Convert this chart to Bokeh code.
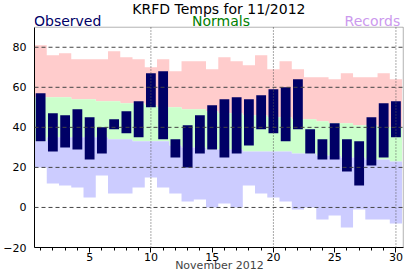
from bokeh.plotting import figure
from bokeh.models import Label, FixedTicker, Range1d, BoxAnnotation
from bokeh.embed import file_html
from bokeh.resources import INLINE

days = list(range(1, 31))
obs_high = [57, 47, 46, 49, 45, 40, 44, 48, 53, 67, 68, 34, 41, 46, 51, 54, 55, 54, 56, 59,
            60, 64, 39, 34, 42, 34, 33, 45, 52, 53]
obs_low = [33, 28, 30, 29, 24, 27, 39, 37, 35, 50, 34, 25, 20, 27, 29, 25, 27, 31, 39, 37,
           33, 39, 27, 24, 24, 18, 11, 21, 25, 35]
norm_high = [55, 55, 55, 54, 54, 53, 53, 52, 52, 51, 50, 50, 49, 49, 48, 47, 47, 46, 46, 45,
             45, 44, 44, 43, 42, 42, 41, 41, 40, 40]
norm_low = [33, 35, 35, 35, 35, 35, 34, 34, 33, 33, 33, 31, 30, 30, 29, 29, 29, 28, 28, 28,
            28, 27, 27, 26, 26, 25, 25, 24, 24, 23]
rec_high = [81, 76, 77, 74, 74, 74, 78, 75, 74, 70, 74, 68, 73, 73, 69, 75, 73, 71, 76, 69,
            73, 69, 65, 65, 64, 67, 65, 65, 67, 64]
rec_low = [20, 12, 11, 10, 5, 16, 7, 7, 10, 15, 10, 7, 3, 4, 0, 2, 0, 11, 7, 5,
           3, -1, 0, -6, -4, -10, -1, -6, -6, -8]
x_ticks = [5, 10, 15, 20, 25, 30]
x_grid = [10, 20, 30]
y_ticks = [-20, 0, 20, 40, 60, 80]
y_grid = [0, 20, 40, 60, 80]

FONT = "DejaVu Sans"
X0, X1 = 0.5, 30.6      # plotted day extent
Y0, Y1 = -20, 90        # plotted temperature extent

p = figure(width=412, height=276, output_backend="svg", toolbar_location=None,
           x_range=Range1d(X0, 30.7), y_range=Range1d(Y0, 103.35),
           min_border_left=31, min_border_right=8, min_border_top=0, min_border_bottom=29)
p.background_fill_color = "white"
p.border_fill_color = "white"
p.outline_line_color = None
p.xgrid.visible = False
p.ygrid.visible = False


def steps(vals):
    xs, ys = [], []
    for d, v in zip(days, vals):
        xs += [d - 0.5, d + 0.5]
        ys += [v, v]
    return xs, ys

sx, rh = steps(rec_high)
_, nh = steps(norm_high)
_, nl = steps(norm_low)
_, rl = steps(rec_low)
p.varea(x=sx, y1=nh, y2=rh, fill_color="#ffcccc")
p.varea(x=sx, y1=nl, y2=nh, fill_color="#ccffcc")
p.varea(x=sx, y1=rl, y2=nl, fill_color="#ccccff")

p.vbar(x=days, width=0.8, bottom=obs_low, top=obs_high, fill_color="#000066", line_color=None)

# grid lines drawn above the bars
p.segment(x0=x_grid, x1=x_grid, y0=[Y0] * len(x_grid), y1=[Y1] * len(x_grid),
          line_color="#555555", line_dash="1 2", line_width=1, level="overlay")
p.segment(x0=[X0] * len(y_grid), x1=[X1] * len(y_grid), y0=y_grid, y1=y_grid,
          line_color="#444444", line_dash="4 3", line_width=1, level="overlay")

# frame border
p.add_layout(BoxAnnotation(left=X0, right=X1, bottom=Y0, top=Y1, fill_color=None,
                           line_color="black", line_width=1, level="overlay"))

# axes
p.xaxis.ticker = FixedTicker(ticks=x_ticks, minor_ticks=days)
p.xaxis.major_tick_out = 5
p.xaxis.major_tick_in = 0
p.xaxis.minor_tick_out = 3
p.xaxis.minor_tick_in = 0
p.xaxis.major_label_standoff = 0
p.xaxis.axis_label = "November 2012"
p.xaxis.axis_label_standoff = -5
p.xaxis.axis_label_text_font_style = "normal"
p.xaxis.axis_label_text_font = FONT
p.xaxis.axis_label_text_font_size = "11px"
p.xaxis.bounds = (X0, X1)

p.yaxis.ticker = FixedTicker(ticks=y_ticks)
p.yaxis.major_tick_out = 0
p.yaxis.major_tick_in = 0
p.yaxis.minor_tick_out = 0
p.yaxis.minor_tick_in = 0
p.yaxis.major_label_standoff = 8
p.yaxis.bounds = (Y0, Y1)

for ax in (p.xaxis[0], p.yaxis[0]):
    ax.axis_line_color = "black"
    ax.major_tick_line_color = "black"
    ax.minor_tick_line_color = "black"
    ax.major_label_text_font = FONT
    ax.major_label_text_font_size = "11px"
    ax.major_label_text_color = "black"

# titles
p.add_layout(Label(x=15.55, y=99.3, text="KRFD Temps for 11/2012", text_align="center",
                   text_baseline="alphabetic", text_font=FONT, text_font_size="14px",
                   text_color="black"))
p.add_layout(Label(x=0.46, y=93.3, text="Observed", text_align="left",
                   text_baseline="alphabetic", text_font=FONT, text_font_size="14px",
                   text_color="#000066"))
p.add_layout(Label(x=15.72, y=93.3, text="Normals", text_align="center",
                   text_baseline="alphabetic", text_font=FONT, text_font_size="14px",
                   text_color="#008000"))
p.add_layout(Label(x=30.35, y=93.3, text="Records", text_align="right",
                   text_baseline="alphabetic", text_font=FONT, text_font_size="14px",
                   text_color="#cc99ee"))

open("out.html", "w").write(file_html(p, INLINE))
